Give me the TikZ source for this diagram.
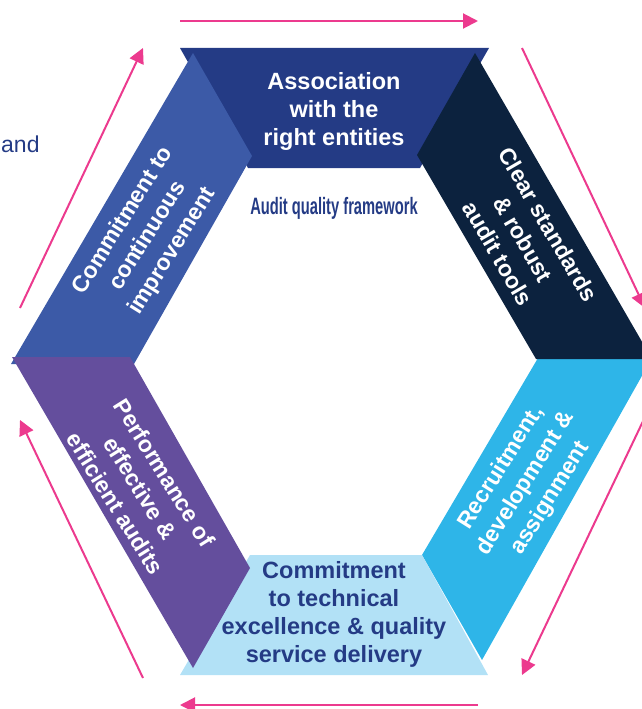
\documentclass[tikz,border=0pt]{standalone}
\usepackage{fontspec}
\usepackage{graphicx}
\setmainfont{Liberation Sans}
\usetikzlibrary{arrows.meta}

\definecolor{bandnavy}{HTML}{243B85}
\definecolor{bandmid}{HTML}{3C5AA7}
\definecolor{banddark}{HTML}{0C223E}
\definecolor{bandcyan}{HTML}{2EB5E8}
\definecolor{bandlight}{HTML}{B2E1F6}
\definecolor{bandpurple}{HTML}{644E9D}
\definecolor{cyclepink}{HTML}{EC3A8E}
\definecolor{textnavy}{HTML}{243B85}

\tikzset{
  bandtext/.style={align=center, text=white,
    font=\fontsize{23.5}{28}\selectfont\bfseries},
  slanttext/.style={bandtext, font=\fontsize{23}{29}\selectfont\bfseries},
  darktext/.style={bandtext, text=textnavy},
  cyclearrow/.style={draw=cyclepink, line width=2pt,
    -{Triangle[length=15pt,width=15pt]}}
}

\begin{document}
\begin{tikzpicture}[x=1pt,y=-1pt]
\useasboundingbox (0,0) rectangle (642,709);
\clip (0,0) rectangle (642,709);

% hexagonal ring of six bands, drawn back to front
\fill[bandcyan]   (538,358) -- (652,358) -- (482,660) -- (422,555) -- cycle;
\fill[bandlight]  (250,555) -- (422,555) -- (488,675) -- (180,675) -- cycle;
\fill[bandnavy]   (180,48) -- (489,48) -- (420,168) -- (248,168) -- cycle;
\fill[bandmid]    (193,53) -- (252,156) -- (134,364) -- (11,364) -- cycle;
\fill[banddark]   (475,53) -- (417,155) -- (536,359) -- (652,359) -- cycle;
\fill[bandpurple] (12,357) -- (130,357) -- (250,568) -- (193,668) -- cycle;

% band labels
\node[bandtext] (assoc) at (334,111) {Association\\with the\\right entities};
\node[slanttext, rotate=-60] (standards) at (523,239) {Clear standards\\\& robust\\audit tools};
\node[slanttext, rotate=58] (recruit) at (526,483) {Recruitment,\\development \&\\assignment};
\node[darktext] (excellence) at (334,614) {Commitment\\to technical\\excellence \& quality\\service delivery};
\node[slanttext, rotate=-58] (perform) at (140,488) {Performance of\\effective \&\\efficient audits};
\node[slanttext, rotate=58] (improve) at (148,236) {Commitment to\\continuous\\improvement};

% centre title and side text
\node[text=textnavy, font=\fontsize{23.7}{28}\selectfont\bfseries, anchor=base]
  (title) at (334,214) {\scalebox{0.62}[1]{Audit quality framework}};
\node[text=textnavy, font=\fontsize{23}{28}\selectfont, anchor=base west, inner sep=0pt]
  (andword) at (1,152) {and};

% cycle arrows around the ring
\coordinate (a1s) at (180,21);  \coordinate (a1e) at (478,21);
\coordinate (a2s) at (522,48);  \coordinate (a2e) at (645,308);
\coordinate (a3s) at (645,417); \coordinate (a3e) at (522,675);
\coordinate (a4s) at (478,705); \coordinate (a4e) at (180,705);
\coordinate (a5s) at (143,678); \coordinate (a5e) at (20,420);
\coordinate (a6s) at (20,308);  \coordinate (a6e) at (143,48);
\draw[cyclearrow] (a1s) -- (a1e);
\draw[cyclearrow] (a2s) -- (a2e);
\draw[cyclearrow] (a3s) -- (a3e);
\draw[cyclearrow] (a4s) -- (a4e);
\draw[cyclearrow] (a5s) -- (a5e);
\draw[cyclearrow] (a6s) -- (a6e);
\end{tikzpicture}
\end{document}
